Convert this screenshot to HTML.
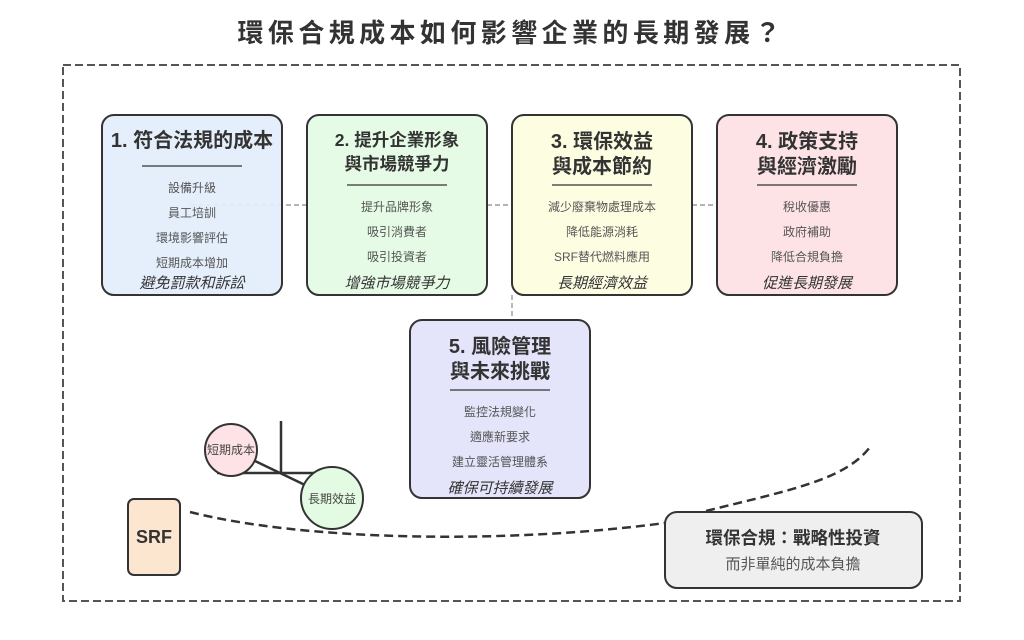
<!DOCTYPE html>
<html><head><meta charset="utf-8"><style>
html,body{margin:0;padding:0;background:#fff;}
svg{display:block;font-family:"Liberation Sans","Noto Sans CJK TC",sans-serif;}
</style></head><body>
<svg width="1024" height="640" viewBox="0 0 1024 640" xmlns="http://www.w3.org/2000/svg">
<text x="509" y="42" text-anchor="middle" font-size="26" font-weight="bold" fill="#333" textLength="543" lengthAdjust="spacing">環保合規成本如何影響企業的長期發展？</text>
<rect x="63" y="65" width="897" height="536" fill="none" stroke="#555" stroke-width="2" stroke-dasharray="8,4"/>
<g stroke="#888" stroke-width="1.2" stroke-dasharray="5,3" fill="none">
<line x1="190" y1="205" x2="307" y2="205"/>
<line x1="487" y1="205" x2="512" y2="205"/>
<line x1="692" y1="205" x2="717" y2="205"/>
<line x1="512" y1="295" x2="512" y2="320"/>
</g>
<g stroke="#333" stroke-width="2">
<rect x="102" y="115" width="180" height="180" rx="12" fill="#e3eefc" fill-opacity="0.93"/>
<rect x="307" y="115" width="180" height="180" rx="12" fill="#e3fbe3" fill-opacity="0.93"/>
<rect x="512" y="115" width="180" height="180" rx="12" fill="#fdfde0" fill-opacity="0.93"/>
<rect x="717" y="115" width="180" height="180" rx="12" fill="#fde3e6"/>
<rect x="410" y="320" width="180" height="178" rx="12" fill="#e4e4fb"/>
<rect x="665" y="512" width="257" height="76" rx="12" fill="#efefef"/>
<rect x="128" y="499" width="52" height="76" rx="6" fill="#fde6cf"/>
</g>
<g stroke="#333" stroke-width="1.2">
<line x1="142" y1="166" x2="242" y2="166"/>
<line x1="347" y1="185" x2="447" y2="185"/>
<line x1="552" y1="185" x2="652" y2="185"/>
<line x1="757" y1="185" x2="857" y2="185"/>
<line x1="450" y1="390" x2="550" y2="390"/>
</g>
<g fill="#333" font-size="20" font-weight="bold" text-anchor="middle">
<text x="192" y="147">1. 符合法規的成本</text>
<text x="397" y="146" font-size="17.5">2. 提升企業形象</text><text x="397" y="170" font-size="17.5">與市場競爭力</text>
<text x="602" y="148">3. 環保效益</text><text x="602" y="173">與成本節約</text>
<text x="807" y="148">4. 政策支持</text><text x="807" y="173">與經濟激勵</text>
<text x="500" y="353">5. 風險管理</text><text x="500" y="378">與未來挑戰</text>
<text x="154" y="543" font-size="18">SRF</text>
<text x="793" y="544" font-size="17.5">環保合規：戰略性投資</text>
</g>
<g fill="#555" font-size="12" text-anchor="middle">
<text x="192" y="192">設備升級</text><text x="192" y="217">員工培訓</text><text x="192" y="242">環境影響評估</text><text x="192" y="267">短期成本增加</text>
<text x="397" y="211">提升品牌形象</text><text x="397" y="236">吸引消費者</text><text x="397" y="261">吸引投資者</text>
<text x="602" y="211">減少廢棄物處理成本</text><text x="602" y="236">降低能源消耗</text><text x="602" y="261">SRF替代燃料應用</text>
<text x="807" y="211">稅收優惠</text><text x="807" y="236">政府補助</text><text x="807" y="261">降低合規負擔</text>
<text x="500" y="416">監控法規變化</text><text x="500" y="441">適應新要求</text><text x="500" y="466">建立靈活管理體系</text>
<text x="793" y="569" font-size="15">而非單純的成本負擔</text>
</g>
<g fill="#333" font-size="15" font-style="italic" text-anchor="middle">
<text x="192" y="288">避免罰款和訴訟</text>
<text x="397" y="288">增強市場競爭力</text>
<text x="602" y="288">長期經濟效益</text>
<text x="807" y="288">促進長期發展</text>
<text x="500" y="493">確保可持續發展</text>
</g>
<g stroke="#333" stroke-width="2.5">
<line x1="217" y1="473" x2="315" y2="473"/>
<line x1="281" y1="421" x2="281" y2="473"/>
<line x1="253" y1="460" x2="305" y2="485"/>
</g>
<circle cx="231" cy="450" r="26" fill="#fde3e6" stroke="#333" stroke-width="2"/>
<circle cx="332" cy="498" r="31" fill="#e3fbe3" stroke="#333" stroke-width="2"/>
<text x="231" y="454" font-size="12" fill="#444" text-anchor="middle">短期成本</text>
<text x="332" y="503" font-size="12" fill="#444" text-anchor="middle">長期效益</text>
<g stroke="#333" stroke-width="2.5" stroke-dasharray="9,5" fill="none">
<path d="M190,512 C 300,540 500,545 665,523"/>
<path d="M706,511 C 790,490 845,480 870,447"/>
</g>
</svg>
</body></html>
